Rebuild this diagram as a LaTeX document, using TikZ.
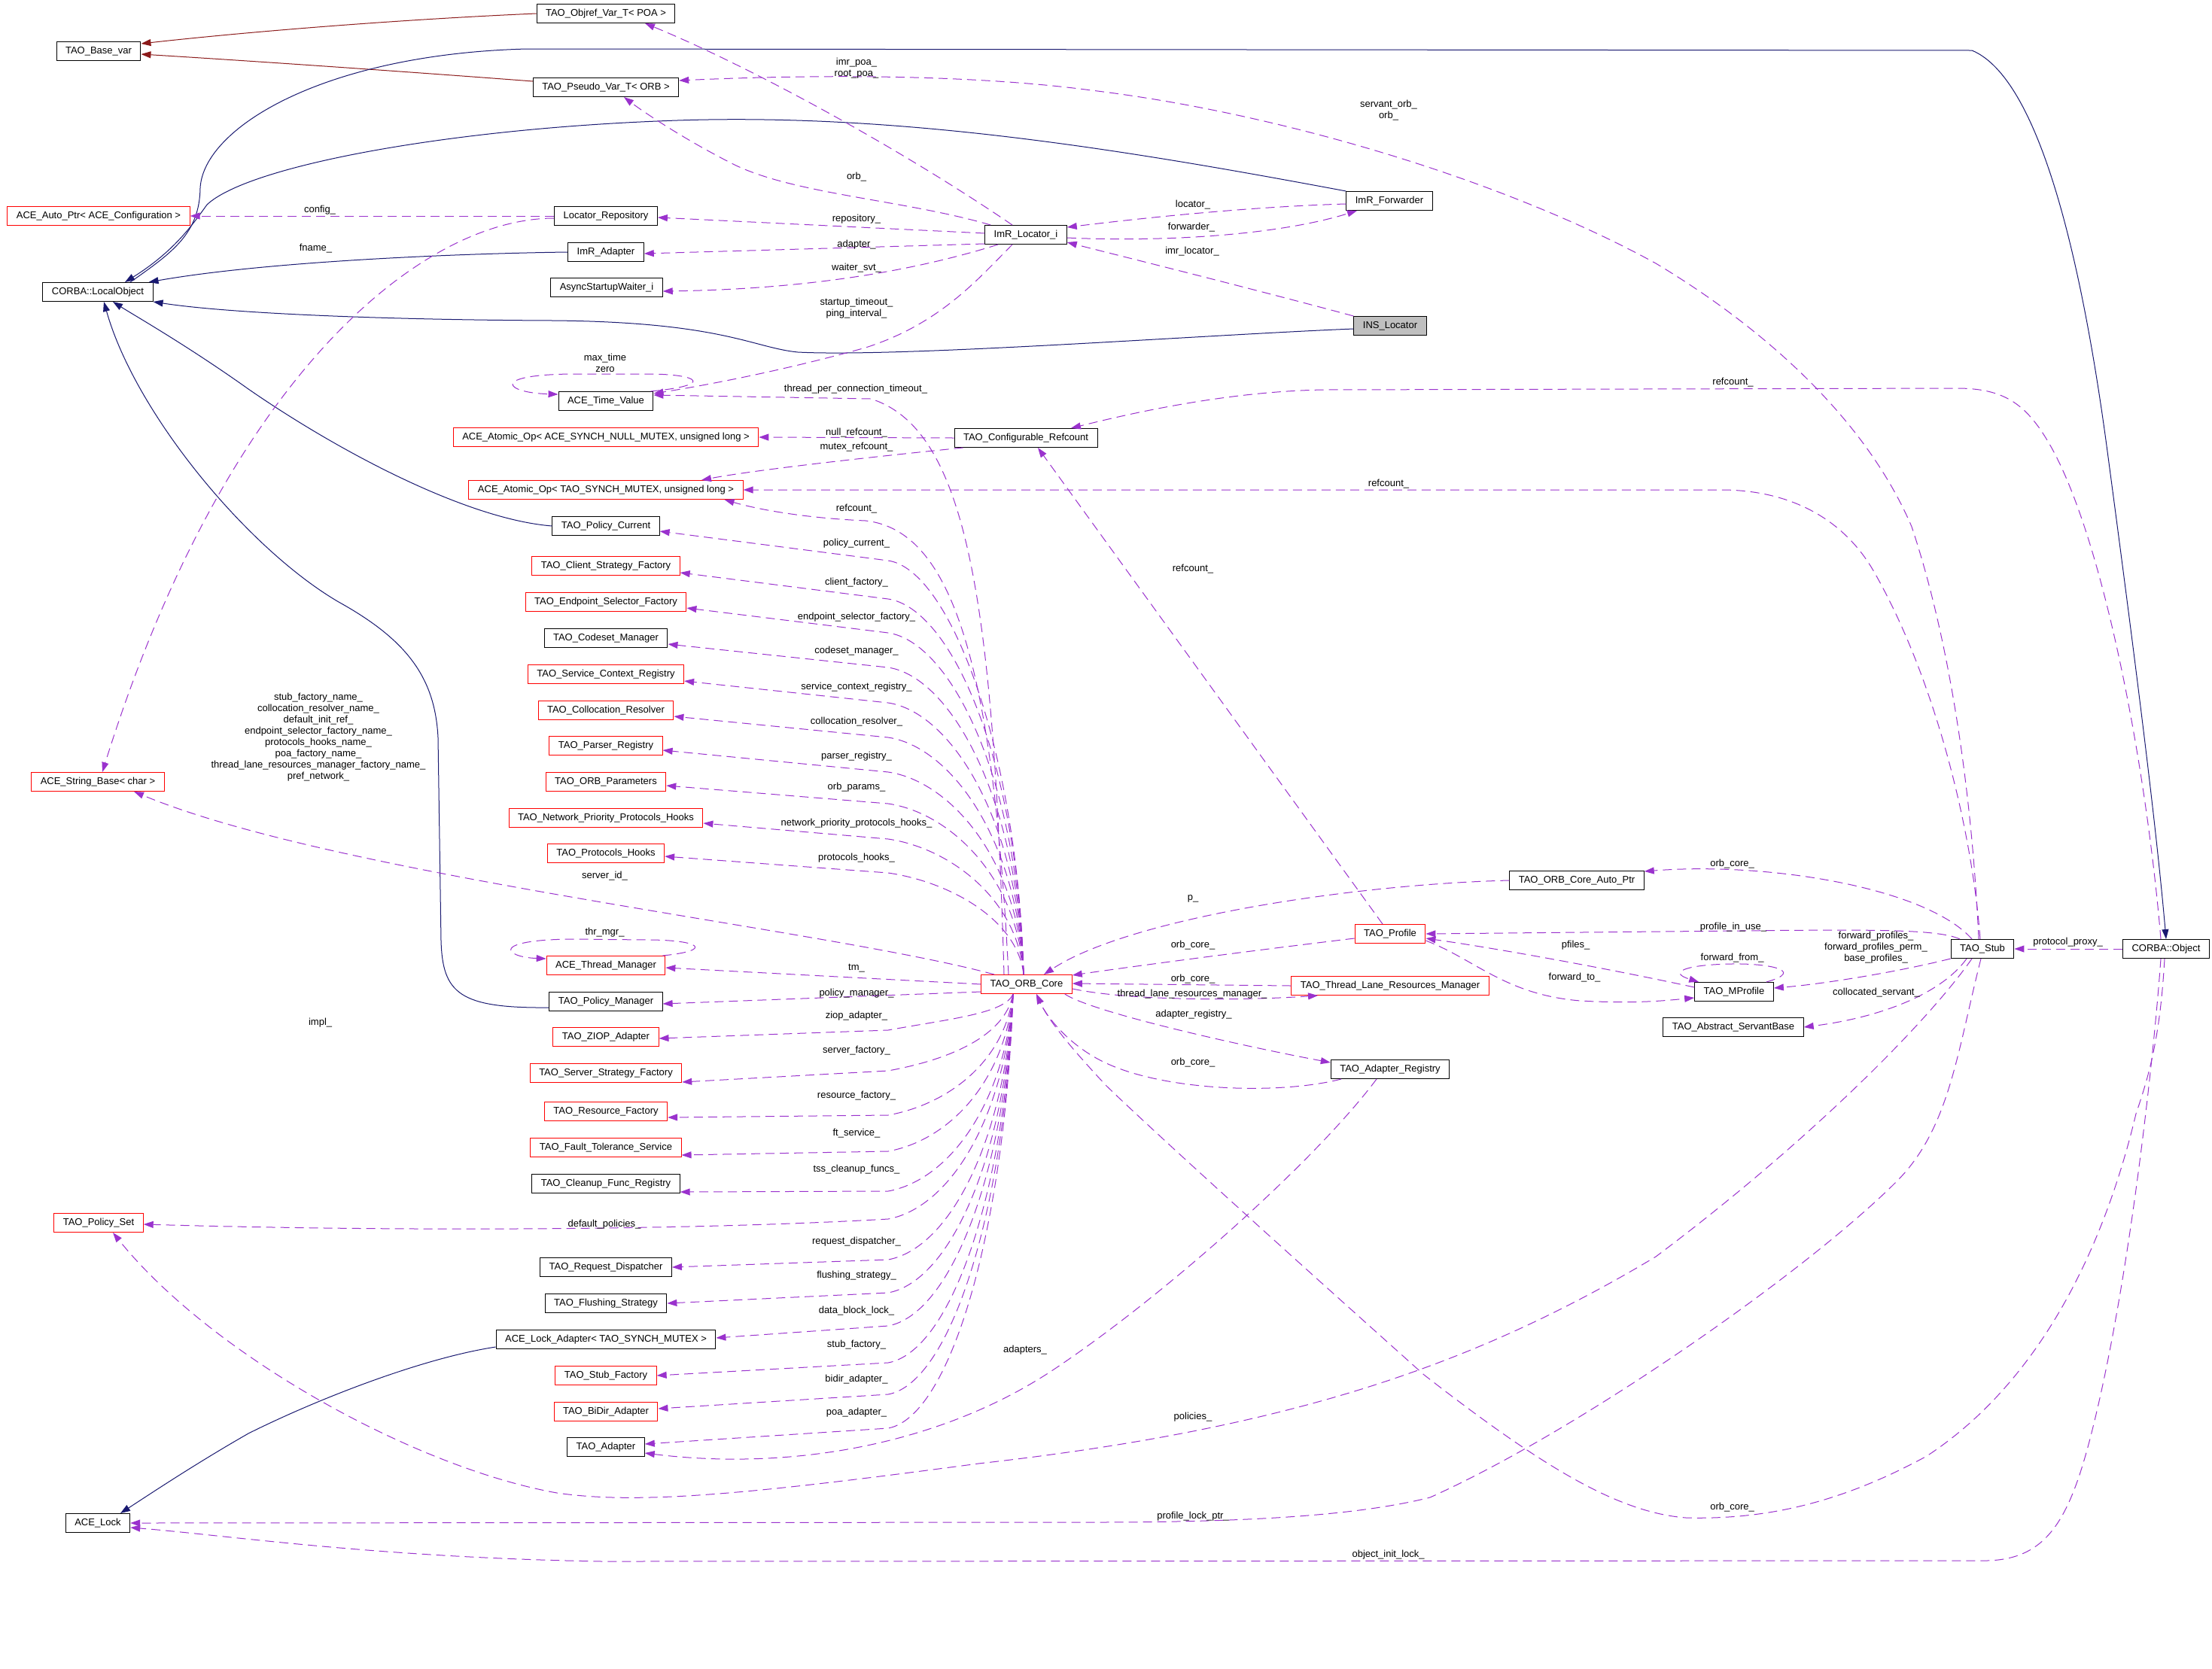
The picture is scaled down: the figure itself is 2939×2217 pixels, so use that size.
\documentclass[tikz,border=0pt]{standalone}
\usepackage{fontspec}
\setmainfont{Liberation Sans}
\usetikzlibrary{arrows.meta}
\definecolor{inhblue}{HTML}{191970}
\definecolor{tplred}{HTML}{8B1A1A}
\definecolor{usepurple}{HTML}{9A32CD}
\definecolor{boxgray}{HTML}{BFBFBF}
\newcommand{\dgfont}{\fontsize{13}{15}\selectfont}

\begin{document}
\begin{tikzpicture}[x=1pt, y=-1pt, line width=1pt,
    cls/.style={draw, fill=white, inner xsep=12pt, inner ysep=0pt, minimum height=25pt, font=\dgfont},
    redcls/.style={cls, draw=red},
    graycls/.style={cls, fill=boxgray},
    lbl/.style={font=\dgfont, align=center, inner sep=0pt},
    headtip/.style={-{Triangle[length=13pt, width=9pt]}},
    inherit/.style={headtip, draw=inhblue},
    tmpl/.style={headtip, draw=tplred},
    usage/.style={headtip, draw=usepurple, dash pattern=on 12pt off 7pt}]
  \useasboundingbox (0,0) rectangle (2939,2217);

  % left column
  \node[cls] (base) at (131,68) {TAO\_Base\_var};
  \node[redcls] (autoptr) at (131,287) {ACE\_Auto\_Ptr< ACE\_Configuration >};
  \node[cls] (lobj) at (130,388) {CORBA::LocalObject};
  \node[redcls] (strbase) at (130,1039) {ACE\_String\_Base< char >};
  \node[redcls] (polset) at (131,1625) {TAO\_Policy\_Set};
  \node[cls] (acelock) at (130,2024) {ACE\_Lock};

  % member types
  \node[cls] (objref) at (805,18) {TAO\_Objref\_Var\_T< POA >};
  \node[cls] (pseudo) at (805,116) {TAO\_Pseudo\_Var\_T< ORB >};
  \node[cls] (locrep) at (805,287) {Locator\_Repository};
  \node[cls] (imradapter) at (805,335) {ImR\_Adapter};
  \node[cls] (waiter) at (806,382) {AsyncStartupWaiter\_i};
  \node[cls] (timeval) at (805,533) {ACE\_Time\_Value};
  \node[redcls] (atomnull) at (805,581) {ACE\_Atomic\_Op< ACE\_SYNCH\_NULL\_MUTEX, unsigned long >};
  \node[redcls] (atommutex) at (805,651) {ACE\_Atomic\_Op< TAO\_SYNCH\_MUTEX, unsigned long >};
  \node[cls] (polcur) at (805,699) {TAO\_Policy\_Current};
  \node[redcls] (clientsf) at (805,752) {TAO\_Client\_Strategy\_Factory};
  \node[redcls] (endpoint) at (805,800) {TAO\_Endpoint\_Selector\_Factory};
  \node[cls] (codeset) at (805,848) {TAO\_Codeset\_Manager};
  \node[redcls] (svcctx) at (805,896) {TAO\_Service\_Context\_Registry};
  \node[redcls] (colloc) at (805,944) {TAO\_Collocation\_Resolver};
  \node[redcls] (parser) at (805,991) {TAO\_Parser\_Registry};
  \node[redcls] (orbparams) at (805,1039) {TAO\_ORB\_Parameters};
  \node[redcls] (netprio) at (805,1087) {TAO\_Network\_Priority\_Protocols\_Hooks};
  \node[redcls] (prothooks) at (805,1134) {TAO\_Protocols\_Hooks};
  \node[redcls] (thrmgr) at (805,1283) {ACE\_Thread\_Manager};
  \node[cls] (polmgr) at (805,1331) {TAO\_Policy\_Manager};
  \node[redcls] (ziop) at (805,1378) {TAO\_ZIOP\_Adapter};
  \node[redcls] (serversf) at (805,1426) {TAO\_Server\_Strategy\_Factory};
  \node[redcls] (resfact) at (805,1477) {TAO\_Resource\_Factory};
  \node[redcls] (ftsvc) at (805,1525) {TAO\_Fault\_Tolerance\_Service};
  \node[cls] (cleanup) at (805,1573) {TAO\_Cleanup\_Func\_Registry};
  \node[cls] (reqdisp) at (805,1684) {TAO\_Request\_Dispatcher};
  \node[cls] (flush) at (805,1732) {TAO\_Flushing\_Strategy};
  \node[cls] (lockadapt) at (805,1780) {ACE\_Lock\_Adapter< TAO\_SYNCH\_MUTEX >};
  \node[redcls] (stubfact) at (805,1828) {TAO\_Stub\_Factory};
  \node[redcls] (bidir) at (805,1876) {TAO\_BiDir\_Adapter};
  \node[cls] (adapter) at (805,1923) {TAO\_Adapter};

  % ImR, ORB core, stub
  \node[cls] (locator) at (1363,312) {ImR\_Locator\_i};
  \node[cls] (refcnt) at (1363,582) {TAO\_Configurable\_Refcount};
  \node[redcls] (core) at (1364,1308) {TAO\_ORB\_Core};
  \node[cls] (forwarder) at (1846,267) {ImR\_Forwarder};
  \node[graycls] (ins) at (1847,433) {INS\_Locator};
  \node[cls] (coreptr) at (2095,1170) {TAO\_ORB\_Core\_Auto\_Ptr};
  \node[redcls] (profile) at (1847,1241) {TAO\_Profile};
  \node[redcls] (tlrm) at (1847,1310) {TAO\_Thread\_Lane\_Resources\_Manager};
  \node[cls] (adreg) at (1847,1421) {TAO\_Adapter\_Registry};
  \node[cls] (mprofile) at (2304,1318) {TAO\_MProfile};
  \node[cls] (servant) at (2303,1365) {TAO\_Abstract\_ServantBase};
  \node[cls] (stub) at (2634,1261) {TAO\_Stub};
  \node[cls] (cobj) at (2878,1261) {CORBA::Object};

  % template instances
  \draw[tmpl] (objref.west) .. controls (550,25) and (350,40) .. ([yshift=-3pt]base.north east);
  \draw[tmpl] ([yshift=8pt]pseudo.west) .. controls (550,96) and (350,82) .. ([yshift=-4pt]base.east);

  % inheritance
  \draw[inherit] ([xshift=43pt]lobj.north) .. controls (230,335) and (265,310) .. (266,250)
    .. controls (270,170) and (430,72) .. (700,65) -- (2620,67)
    .. controls (2700,100) and (2760,300) .. (2800,600)
    .. controls (2840,900) and (2865,1100) .. (cobj.north);
  \draw[inherit] (forwarder.north west) .. controls (1500,200) and (1200,150) .. (900,160)
    .. controls (600,170) and (330,220) .. (275,272)
    .. controls (255,300) and (230,335) .. ([xshift=36pt]lobj.north);
  \draw[inherit] (imradapter.west) .. controls (600,337) and (350,348) .. ([xshift=-6pt]lobj.north east);
  \draw[inherit] ([yshift=-4pt]ins.west) .. controls (1600,445) and (1200,475) .. (1060,468)
    .. controls (1000,462) and (960,428) .. (735,426)
    .. controls (500,425) and (300,416) .. (lobj.south east);
  \draw[inherit] (polcur.west) .. controls (620,690) and (450,600) .. (330,517)
    .. controls (250,460) and (180,420) .. ([xshift=20pt]lobj.south);
  \draw[inherit] ([yshift=-8pt]polmgr.west) .. controls (610,1340) and (588,1320) .. (586,1250) -- (582,980)
    .. controls (578,900) and (540,850) .. (450,800)
    .. controls (330,730) and (180,550) .. ([xshift=8pt]lobj.south);
  \draw[inherit] ([yshift=-10pt]lockadapt.west) .. controls (560,1805) and (420,1860) .. (330,1905)
    .. controls (260,1945) and (200,1985) .. ([xshift=30pt]acelock.north);

  % ImR_Locator_i members
  \draw[usage] ([xshift=-18pt]locator.north) .. controls (1200,200) and (1000,90) .. ([xshift=52pt]objref.south);
  \draw[usage] ([xshift=8pt]locator.north west) .. controls (1200,265) and (1050,258) .. (970,216)
    .. controls (900,180) and (850,145) .. ([xshift=24pt]pseudo.south);
  \path ([yshift=2pt]locator.west) edge[usage] ([yshift=-2pt]locrep.east);
  \path ([yshift=-12pt]locator.west) edge[usage] ([yshift=-2pt]imradapter.east);
  \draw[usage] ([xshift=-37pt]locator.south) .. controls (1240,352) and (1100,384) .. ([yshift=-5pt]waiter.east);
  \draw[usage] ([xshift=-18pt]locator.south) .. controls (1300,370) and (1250,430) .. (1150,462)
    .. controls (1050,490) and (950,510) .. ([yshift=-3pt]timeval.north east);
  \draw[usage] ([xshift=-4pt]timeval.north east) .. controls (950,512) and (930,497) .. (860,497) -- (760,497)
    .. controls (650,498) and (670,522) .. ([yshift=-4pt]timeval.north west);
  \draw[usage] ([yshift=-4pt]forwarder.west) .. controls (1650,275) and (1500,292) .. ([yshift=-3pt]locator.north east);
  \draw[usage] ([yshift=-4pt]locator.east) .. controls (1550,322) and (1700,312) .. ([xshift=-43pt]forwarder.south);
  \draw[usage] (ins.north west) .. controls (1650,380) and (1480,338) .. ([yshift=3pt]locator.south east);
  \path (locrep.west) edge[usage] (autoptr.east);
  \draw[usage] ([yshift=-3pt]locrep.west) .. controls (560,290) and (300,500) .. ([xshift=6pt]strbase.north);

  % refcount
  \path (refcnt.west) edge[usage] (atomnull.east);
  \draw[usage] ([xshift=12pt]refcnt.south west) .. controls (1150,608) and (1000,625) .. ([xshift=127pt]atommutex.north);
  \path ([xshift=-10pt]profile.north) edge[usage] ([xshift=16pt]refcnt.south);

  % TAO_ORB_Core members, upper part
  \draw[usage] ([xshift=-30pt]core.north) .. controls (1320,800) and (1285,570) .. (1157,530) -- ([yshift=-5pt]timeval.north east);
  \draw[usage] ([xshift=-24pt]core.north) .. controls (1320,900) and (1270,705) .. (1150,692)
    .. controls (1060,688) and (1000,675) .. ([xshift=-25pt]atommutex.south east);
  \draw[usage] ([xshift=-4pt]core.north) .. controls (1352,996) and (1262,757) .. (1180,745) -- ([yshift=-7pt]polcur.east);
  \draw[usage] ([xshift=-4pt]core.north) .. controls (1352,1003) and (1262,808) .. (1180,796) -- ([yshift=-9pt]clientsf.east);
  \draw[usage] ([xshift=-4pt]core.north) .. controls (1352,1030) and (1262,853) .. (1180,841) -- ([yshift=-8pt]endpoint.east);
  \draw[usage] ([xshift=-4pt]core.north) .. controls (1352,1058) and (1262,899) .. (1180,887) -- ([yshift=-8pt]codeset.east);
  \draw[usage] ([xshift=-4pt]core.north) .. controls (1352,1086) and (1262,946) .. (1180,934) -- ([yshift=-9pt]svcctx.east);
  \draw[usage] ([xshift=-4pt]core.north) .. controls (1352,1114) and (1262,992) .. (1180,980) -- ([yshift=-8pt]colloc.east);
  \draw[usage] ([xshift=-4pt]core.north) .. controls (1352,1141) and (1262,1038) .. (1180,1026) -- ([yshift=-6pt]parser.east);
  \draw[usage] ([xshift=-4pt]core.north) .. controls (1352,1166) and (1262,1080) .. (1180,1068) -- ([yshift=-5pt]orbparams.east);
  \draw[usage] ([xshift=-4pt]core.north) .. controls (1352,1195) and (1262,1127) .. (1180,1115) -- ([yshift=-7pt]netprio.east);
  \draw[usage] ([xshift=-4pt]core.north) .. controls (1352,1222) and (1262,1172) .. (1180,1160) -- ([yshift=-4pt]prothooks.east);
  \draw[usage] ([xshift=-43pt]core.north) .. controls (1100,1235) and (450,1165) .. ([xshift=48pt]strbase.south);

  % TAO_ORB_Core members, left
  \path (core.west) edge[usage] ([yshift=-3pt]thrmgr.east);
  \draw[usage] ([xshift=-4pt]thrmgr.north east) .. controls (950,1263) and (930,1249) .. (860,1249) -- (760,1248)
    .. controls (650,1249) and (670,1272) .. ([yshift=-4pt]thrmgr.north west);
  \path ([yshift=-10pt]core.west) edge[usage] ([yshift=-3pt]polmgr.east);

  % TAO_ORB_Core members, lower part
  \draw[usage] ([xshift=-18pt]core.south) .. controls (1335,1347) and (1262,1354) .. (1180,1369) -- ([yshift=-2pt]ziop.east);
  \draw[usage] ([xshift=-18pt]core.south) .. controls (1335,1377) and (1262,1408) .. (1180,1423) -- ([yshift=-12pt]serversf.east);
  \draw[usage] ([xshift=-18pt]core.south) .. controls (1335,1409) and (1262,1467) .. (1180,1482) -- ([yshift=-8pt]resfact.east);
  \draw[usage] ([xshift=-18pt]core.south) .. controls (1335,1436) and (1262,1515) .. (1180,1530) -- ([yshift=-10pt]ftsvc.east);
  \draw[usage] ([xshift=-18pt]core.south) .. controls (1335,1465) and (1262,1568) .. (1180,1583) -- ([yshift=-11pt]cleanup.east);
  \draw[usage] ([xshift=-18pt]core.south) .. controls (1335,1485) and (1262,1605) .. (1180,1620)
    .. controls (900,1636) and (500,1636) .. ([yshift=-2pt]polset.east);
  \draw[usage] ([xshift=-18pt]core.south) .. controls (1335,1515) and (1262,1659) .. (1180,1674) -- (reqdisp.east);
  \draw[usage] ([xshift=-18pt]core.south) .. controls (1335,1539) and (1262,1703) .. (1180,1718) -- (flush.east);
  \draw[usage] ([xshift=-18pt]core.south) .. controls (1335,1563) and (1262,1747) .. (1180,1762) -- ([yshift=2pt]lockadapt.east);
  \draw[usage] ([xshift=-18pt]core.south) .. controls (1335,1590) and (1262,1796) .. (1180,1811) -- (stubfact.east);
  \draw[usage] ([xshift=-18pt]core.south) .. controls (1335,1613) and (1262,1838) .. (1180,1853) -- ([yshift=4pt]bidir.east);
  \draw[usage] ([xshift=-18pt]core.south) .. controls (1335,1638) and (1262,1883) .. (1180,1898) -- ([yshift=4pt]adapter.east);

  % TAO_ORB_Core members, right
  \draw[usage] (coreptr.west) .. controls (1800,1175) and (1500,1220) .. ([xshift=23pt]core.north);
  \draw[usage] ([yshift=-6pt]profile.west) .. controls (1650,1265) and (1500,1285) .. ([yshift=-1pt]core.north east);
  \path (tlrm.west) edge[usage] ([yshift=1pt]core.east);
  \draw[usage] ([yshift=-6pt]core.east) .. controls (1500,1330) and (1650,1330) .. ([xshift=-96pt]tlrm.south);
  \draw[usage] ([xshift=-10pt]core.south east) .. controls (1450,1345) and (1650,1390) .. ([yshift=9pt]adreg.west);
  \draw[usage] ([xshift=-65pt]adreg.south) .. controls (1700,1455) and (1550,1450) .. (1470,1413)
    .. controls (1420,1390) and (1390,1350) .. ([xshift=13pt]core.south);
  \draw[usage] ([xshift=-18pt]adreg.south) .. controls (1750,1540) and (1550,1720) .. (1400,1820)
    .. controls (1250,1920) and (1050,1955) .. ([yshift=-8pt]adapter.east);

  % TAO_Stub members
  \path (cobj.west) edge[usage] (stub.east);
  \draw[usage] ([xshift=-5pt]stub.north) .. controls (2620,1050) and (2590,850) .. (2540,700)
    .. controls (2480,560) and (2350,440) .. (2200,350)
    .. controls (2000,240) and (1700,150) .. (1450,120)
    .. controls (1300,100) and (1100,98) .. ([yshift=9pt]pseudo.east);
  \draw[usage] ([xshift=-3pt]stub.north) .. controls (2620,1100) and (2570,900) .. (2490,760)
    .. controls (2450,690) and (2380,652) .. (2290,651) -- (atommutex.east);
  \draw[usage] ([xshift=-14pt]stub.north) .. controls (2560,1180) and (2350,1145) .. ([yshift=12pt]coreptr.east);
  \draw[usage] ([xshift=-30pt]stub.north) .. controls (2570,1232) and (2450,1236) .. (2205,1238) -- (profile.east);
  \draw[usage] (stub.south west) .. controls (2520,1292) and (2420,1308) .. ([yshift=5pt]mprofile.east);
  \draw[usage] ([xshift=-21pt]stub.south) .. controls (2580,1320) and (2500,1352) .. (servant.east);
  \draw[usage] ([xshift=-14pt]stub.south) .. controls (2560,1360) and (2400,1520) .. (2200,1670)
    .. controls (1950,1820) and (1700,1900) .. (1300,1945)
    .. controls (1000,1985) and (850,2000) .. (740,1984)
    .. controls (550,1950) and (280,1800) .. ([xshift=19pt]polset.south);
  \draw[usage] ([xshift=-2pt]stub.south) .. controls (2600,1400) and (2590,1500) .. (2520,1570)
    .. controls (2400,1690) and (2100,1900) .. (1900,1990)
    .. controls (1800,2015) and (1650,2023) .. (1450,2023) -- (acelock.east);

  % TAO_MProfile and TAO_Profile
  \draw[usage] ([xshift=-10pt]mprofile.north east) .. controls (2400,1290) and (2350,1280) .. (2300,1281)
    .. controls (2240,1282) and (2215,1292) .. ([xshift=6pt]mprofile.north west);
  \draw[usage] ([yshift=6pt]mprofile.west) .. controls (2150,1290) and (2000,1262) .. ([yshift=-6pt]profile.east);
  \draw[usage] ([yshift=-9pt]profile.east) .. controls (1960,1275) and (2000,1322) .. (2100,1330)
    .. controls (2170,1334) and (2210,1330) .. ([yshift=-8pt]mprofile.west);

  % CORBA::Object members
  \draw[usage] ([xshift=-7pt]cobj.north) .. controls (2850,1000) and (2790,700) .. (2720,585)
    .. controls (2690,535) and (2660,516) .. (2600,516) -- (1760,518)
    .. controls (1620,520) and (1480,555) .. ([xshift=60pt]refcnt.north);
  \draw[usage] ([xshift=-2pt]cobj.south) .. controls (2870,1380) and (2855,1430) .. (2838,1480)
    .. controls (2800,1640) and (2720,1830) .. (2560,1935)
    .. controls (2450,1995) and (2350,2020) .. (2240,2017)
    .. controls (2150,2010) and (2050,1950) .. (1892,1827)
    .. controls (1750,1700) and (1550,1520) .. (1470,1443)
    .. controls (1430,1400) and (1395,1360) .. ([xshift=13pt]core.south);
  \draw[usage] ([xshift=-7pt]cobj.south) .. controls (2862,1400) and (2830,1700) .. (2780,1900)
    .. controls (2750,2020) and (2720,2072) .. (2640,2074) -- (800,2075)
    .. controls (500,2070) and (300,2040) .. ([yshift=-6pt]acelock.east);

  % member names
  \node[lbl] (limrpoa) at (1138,90.5) {imr\_poa\_\\root\_poa\_};
  \node[lbl] (lorb) at (1138,235) {orb\_};
  \node[lbl] (lrepo) at (1138,291) {repository\_};
  \node[lbl] (ladapt) at (1138,325) {adapter\_};
  \node[lbl] (lwaiter) at (1138,356) {waiter\_svt\_};
  \node[lbl] (lstartup) at (1138,409.5) {startup\_timeout\_\\ping\_interval\_};
  \node[lbl] (lmaxtime) at (804,482.5) {max\_time\\zero};
  \node[lbl] (ltpct) at (1137,517) {thread\_per\_connection\_timeout\_};
  \node[lbl] (lnullref) at (1138,575) {null\_refcount\_};
  \node[lbl] (lmutexref) at (1138,594.5) {mutex\_refcount\_};
  \node[lbl] (lcoreref) at (1138,676) {refcount\_};
  \node[lbl] (lpolcur) at (1138,722) {policy\_current\_};
  \node[lbl] (lclient) at (1138,774) {client\_factory\_};
  \node[lbl] (lendpoint) at (1138,820) {endpoint\_selector\_factory\_};
  \node[lbl] (lcodeset) at (1138,865.6) {codeset\_manager\_};
  \node[lbl] (lsvcctx) at (1138,913.5) {service\_context\_registry\_};
  \node[lbl] (lcolloc) at (1138,959) {collocation\_resolver\_};
  \node[lbl] (lparser) at (1138,1005) {parser\_registry\_};
  \node[lbl] (lorbparams) at (1138,1046.6) {orb\_params\_};
  \node[lbl] (lnetprio) at (1138,1094) {network\_priority\_protocols\_hooks\_};
  \node[lbl] (lprothooks) at (1138,1140) {protocols\_hooks\_};
  \node[lbl] (lserverid) at (803.5,1164) {server\_id\_};
  \node[lbl] (lthrmgr) at (803.5,1239) {thr\_mgr\_};
  \node[lbl] (ltm) at (1138,1287) {tm\_};
  \node[lbl] (lpolmgr) at (1138,1320) {policy\_manager\_};
  \node[lbl] (lziop) at (1138,1350.6) {ziop\_adapter\_};
  \node[lbl] (lserversf) at (1138,1396.6) {server\_factory\_};
  \node[lbl] (lresfact) at (1138,1456) {resource\_factory\_};
  \node[lbl] (lftsvc) at (1138,1506) {ft\_service\_};
  \node[lbl] (ltss) at (1138,1554) {tss\_cleanup\_funcs\_};
  \node[lbl] (ldefpol) at (803,1626.7) {default\_policies\_};
  \node[lbl] (lreqdisp) at (1138,1650) {request\_dispatcher\_};
  \node[lbl] (lflush) at (1138,1695.6) {flushing\_strategy\_};
  \node[lbl] (ldblock) at (1138,1742.5) {data\_block\_lock\_};
  \node[lbl] (lstubfact) at (1138,1787.5) {stub\_factory\_};
  \node[lbl] (lbidir) at (1138,1833.6) {bidir\_adapter\_};
  \node[lbl] (lpoaadapt) at (1138,1877.6) {poa\_adapter\_};
  \node[lbl] (ladapters) at (1362,1794.6) {adapters\_};
  \node[lbl] (lconfig) at (425,279) {config\_};
  \node[lbl] (lfname) at (419.5,330.5) {fname\_};
  \node[lbl] (lnames) at (423,980) {stub\_factory\_name\_\\collocation\_resolver\_name\_\\default\_init\_ref\_\\endpoint\_selector\_factory\_name\_\\protocols\_hooks\_name\_\\poa\_factory\_name\_\\thread\_lane\_resources\_manager\_factory\_name\_\\pref\_network\_};
  \node[lbl] (limpl) at (425.6,1358.7) {impl\_};
  \node[lbl] (lservorb) at (1845,147) {servant\_orb\_\\orb\_};
  \node[lbl] (llocator) at (1585,272) {locator\_};
  \node[lbl] (lforwarder) at (1583,302) {forwarder\_};
  \node[lbl] (limrloc) at (1584,334) {imr\_locator\_};
  \node[lbl] (lstubref) at (1845,643) {refcount\_};
  \node[lbl] (lobjref) at (2302.5,508) {refcount\_};
  \node[lbl] (lprofref) at (1585,756.4) {refcount\_};
  \node[lbl] (lp) at (1585,1194) {p\_};
  \node[lbl] (lprofcore) at (1585,1256) {orb\_core\_};
  \node[lbl] (ltlrmcore) at (1585,1301) {orb\_core\_};
  \node[lbl] (ltlrm) at (1584,1321) {thread\_lane\_resources\_manager\_};
  \node[lbl] (ladreg) at (1586,1348.5) {adapter\_registry\_};
  \node[lbl] (ladregcore) at (1585,1412) {orb\_core\_};
  \node[lbl] (lpfiles) at (2093.6,1256) {pfiles\_};
  \node[lbl] (lfwdto) at (2092,1298.6) {forward\_to\_};
  \node[lbl] (lstubcore) at (2301.6,1148) {orb\_core\_};
  \node[lbl] (lpiu) at (2303,1232) {profile\_in\_use\_};
  \node[lbl] (lfwdprof) at (2492.5,1259) {forward\_profiles\_\\forward\_profiles\_perm\_\\base\_profiles\_};
  \node[lbl] (lfwdfrom) at (2301.6,1273) {forward\_from\_};
  \node[lbl] (lcolsvt) at (2493,1318.6) {collocated\_servant\_};
  \node[lbl] (lproxy) at (2747.5,1252.6) {protocol\_proxy\_};
  \node[lbl] (lpolicies) at (1585,1883) {policies\_};
  \node[lbl] (lplock) at (1585,2015) {profile\_lock\_ptr\_};
  \node[lbl] (lobjcore) at (2301.6,2003) {orb\_core\_};
  \node[lbl] (linitlock) at (1844.6,2066) {object\_init\_lock\_};
\end{tikzpicture}
\end{document}
